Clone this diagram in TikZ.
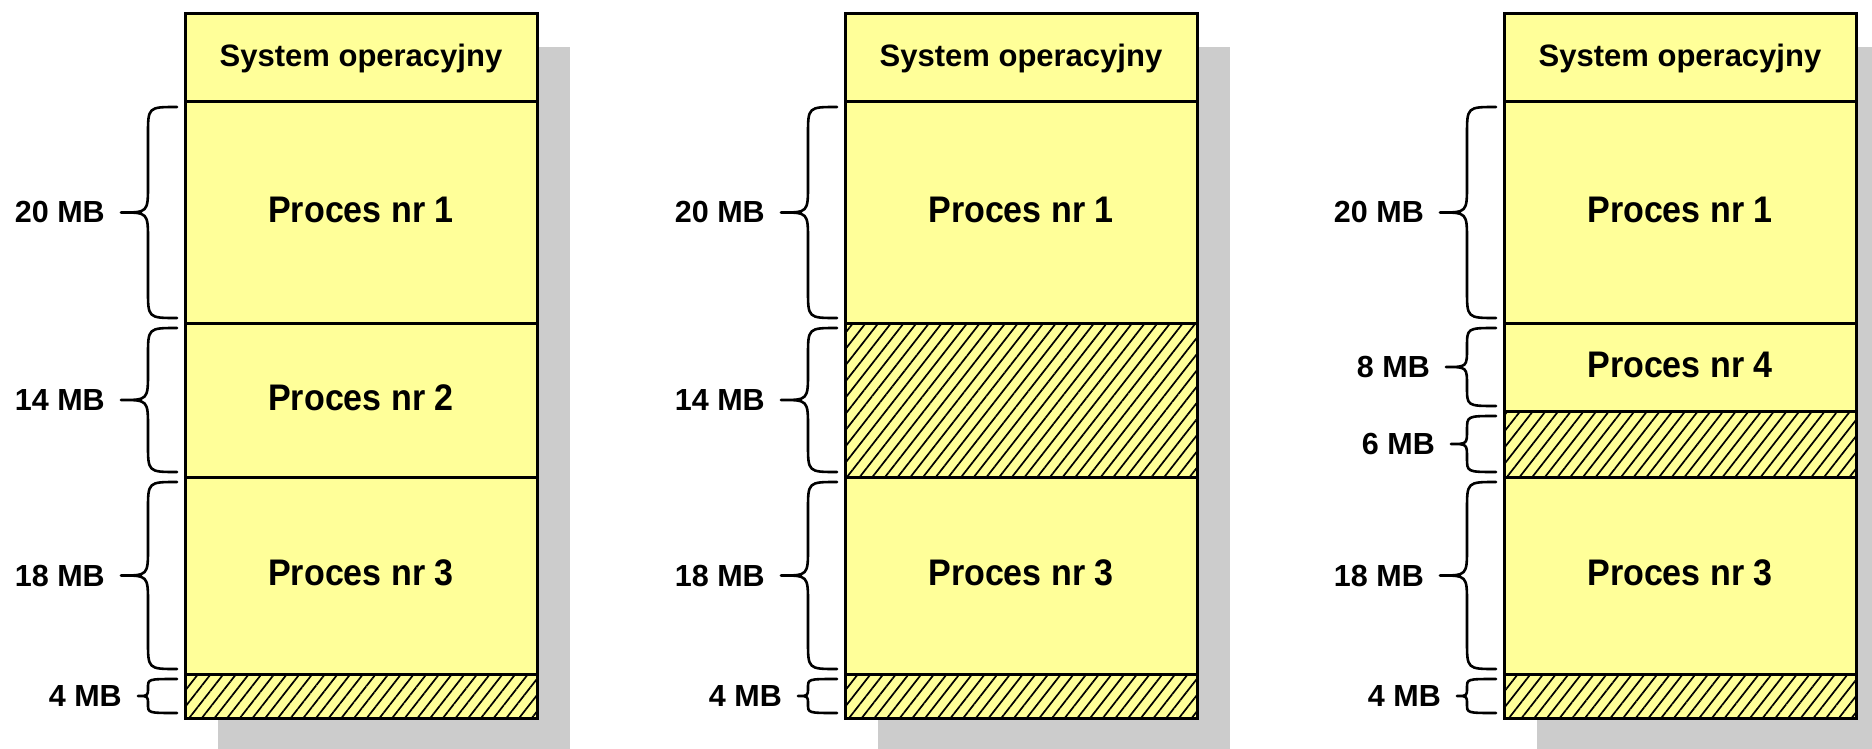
\documentclass[tikz,border=0pt]{standalone}
\usepackage{fontspec}
\setmainfont{Liberation Sans}
\newfontfamily\procfont[FakeStretch=0.92]{Liberation Sans}
\usetikzlibrary{patterns.meta}
\definecolor{memyel}{HTML}{FFFF99}
\definecolor{shadowgray}{HTML}{CCCCCC}
\tikzset{
  segbase/.style={draw=black, line width=3pt, minimum width=352pt, inner sep=0pt, outer sep=0pt, anchor=center},
  seg/.style={segbase, fill=memyel},
  hatched/.style={segbase, preaction={fill=memyel}, pattern={Lines[angle=52,distance=10pt,line width=1.7pt]}, pattern color=black},
  ostext/.style={font=\fontsize{31}{37}\selectfont\bfseries},
  proctext/.style={font=\procfont\fontsize{37}{44}\selectfont\bfseries, text height=27pt, text depth=7pt},
  lbl/.style={font=\fontsize{30.5}{36}\selectfont\bfseries, inner sep=0pt, anchor=east},
  bracestyle/.style={line width=2.6pt, line join=round, line cap=round},
  shadowbox/.style={fill=shadowgray, draw=none},
}
\newcommand\memBrace[7]{%
  \coordinate (#6t) at ({#1-37-#5},{(#2+#3)/2});
  \draw[bracestyle] ({#1-8},#2) .. controls ({#1-37},#2) .. ({#1-37},{#2+#4})
    -- ({#1-37},{(#2+#3)/2-#4}) .. controls ({#1-37},{(#2+#3)/2}) .. (#6t)
    .. controls ({#1-37},{(#2+#3)/2}) .. ({#1-37},{(#2+#3)/2+#4})
    -- ({#1-37},{#3-#4}) .. controls ({#1-37},#3) .. ({#1-8},#3);
  \node[lbl] (#6) at ([xshift=-16pt]#6t) {#7};
}
\begin{document}
\begin{tikzpicture}[x=1pt,y=-1pt]
\path[use as bounding box] (0,0) rectangle (1872,749);
\clip (0,0) rectangle (1872,749);
% shadows
\fill[shadowbox] (218,47) rectangle (570,751);
\fill[shadowbox] (878,47) rectangle (1230,751);
\fill[shadowbox] (1537,47) rectangle (1889,751);
% column 1
\node[seg, ostext, minimum height=88pt] (c1os) at (361,58) {System operacyjny};
\node[seg, proctext, minimum height=221pt] (c1p1) at (361,212.5) {Proces nr 1};
\node[seg, proctext, minimum height=154pt] (c1p2) at (361,400) {Proces nr 2};
\node[seg, proctext, minimum height=197pt] (c1p3) at (361,575.5) {Proces nr 3};
\node[hatched, minimum height=44pt] (c1f) at (361,696) {};
% column 2
\node[seg, ostext, minimum height=88pt] (c2os) at (1021,58) {System operacyjny};
\node[seg, proctext, minimum height=221pt] (c2p1) at (1021,212.5) {Proces nr 1};
\node[hatched, minimum height=154pt] (c2f1) at (1021,400) {};
\node[seg, proctext, minimum height=197pt] (c2p3) at (1021,575.5) {Proces nr 3};
\node[hatched, minimum height=44pt] (c2f) at (1021,696) {};
% column 3
\node[seg, ostext, minimum height=88pt] (c3os) at (1680,58) {System operacyjny};
\node[seg, proctext, minimum height=221pt] (c3p1) at (1680,212.5) {Proces nr 1};
\node[seg, proctext, minimum height=88pt] (c3p4) at (1680,367) {Proces nr 4};
\node[hatched, minimum height=66pt] (c3f1) at (1680,444) {};
\node[seg, proctext, minimum height=197pt] (c3p3) at (1680,575.5) {Proces nr 3};
\node[hatched, minimum height=44pt] (c3f) at (1680,696) {};
% braces column 1
\memBrace{185}{107}{318}{28}{27}{l11}{20 MB}
\memBrace{185}{328}{472}{28}{27}{l12}{14 MB}
\memBrace{185}{482}{669}{28}{27}{l13}{18 MB}
\memBrace{185}{679}{713}{8.5}{10}{l14}{4 MB}
% braces column 2
\memBrace{845}{107}{318}{28}{27}{l21}{20 MB}
\memBrace{845}{328}{472}{28}{27}{l22}{14 MB}
\memBrace{845}{482}{669}{28}{27}{l23}{18 MB}
\memBrace{845}{679}{713}{8.5}{10}{l24}{4 MB}
% braces column 3
\memBrace{1504}{107}{318}{28}{27}{l31}{20 MB}
\memBrace{1504}{328}{406}{19}{21}{l32}{8 MB}
\memBrace{1504}{416}{472}{14}{16}{l33}{6 MB}
\memBrace{1504}{482}{669}{28}{27}{l34}{18 MB}
\memBrace{1504}{679}{713}{8.5}{10}{l35}{4 MB}
\end{tikzpicture}
\end{document}
